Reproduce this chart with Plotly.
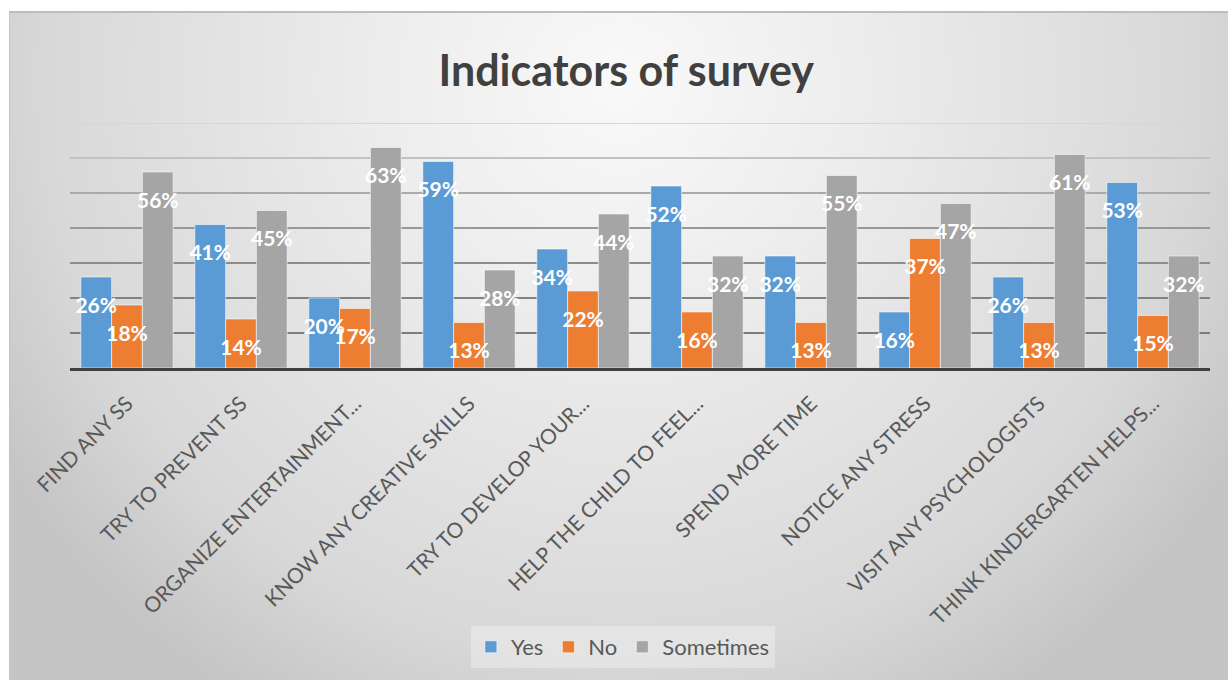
import base64
import plotly.graph_objects as go

categories = [
    "FIND ANY SS",
    "TRY TO PREVENT SS",
    "ORGANIZE ENTERTAINMENT...",
    "KNOW ANY CREATIVE SKILLS",
    "TRY TO DEVELOP YOUR...",
    "HELP THE CHILD TO FEEL...",
    "SPEND MORE TIME",
    "NOTICE ANY STRESS",
    "VISIT ANY PSYCHOLOGISTS",
    "THINK KINDERGARTEN HELPS...",
]
yes_vals = [26, 41, 20, 59, 34, 52, 32, 16, 26, 53]
no_vals = [18, 14, 17, 13, 22, 16, 13, 37, 13, 15]
sometimes_vals = [56, 45, 63, 28, 44, 32, 55, 47, 61, 32]
series_names = ["Yes", "No", "Sometimes"]
grid_values = [10, 20, 30, 40, 50, 60, 70]

colors = ["#5B9BD5", "#ED7D31", "#A5A5A5"]
grid_colors = ["#7c7c7c", "#828282", "#8c8c8c", "#989898", "#aaaaaa", "#c2c2c2", "#d6d6d6"]

W, H = 1228, 680
ML, MR, MT, MB = 70, 18, 123, 312
PW, PH = W - ML - MR, H - MT - MB

# background gradient (Excel-like radial fill) as inline SVG
bx0, by0 = 9, 11
bw, bh = W - bx0, H - by0
svg = f"""<svg xmlns='http://www.w3.org/2000/svg' width='{bw}' height='{bh}' viewBox='0 0 {bw} {bh}' preserveAspectRatio='none'>
<defs><radialGradient id='g' gradientUnits='userSpaceOnUse' cx='{bw*0.5:.0f}' cy='70' r='720'>
<stop offset='0' stop-color='#f9f9f9'/>
<stop offset='0.35' stop-color='#ececec'/>
<stop offset='0.8' stop-color='#d8d8d8'/>
<stop offset='1' stop-color='#c5c5c5'/>
</radialGradient></defs>
<rect x='0' y='0' width='{bw}' height='{bh}' fill='url(#g)'/>
<line x1='0' y1='1' x2='{bw}' y2='1' stroke='#bdbdbd' stroke-width='2'/>
<line x1='0.5' y1='0' x2='0.5' y2='{bh}' stroke='#c4c4c4' stroke-width='1'/>
</svg>"""
svg_uri = "data:image/svg+xml;base64," + base64.b64encode(svg.encode()).decode()

fig = go.Figure()
all_vals = [yes_vals, no_vals, sometimes_vals]
for name, vals, col in zip(series_names, all_vals, colors):
    fig.add_trace(go.Bar(
        name=name, x=categories, y=vals, offsetgroup=name,
        marker=dict(color=col, line=dict(color="rgba(255,255,255,0.55)", width=1)),
        hoverinfo="skip",
    ))
for name, vals in zip(series_names, all_vals):
    fig.add_trace(go.Scatter(
        x=categories, y=vals, offsetgroup=name, mode="markers+text",
        text=[f"{v}%" for v in vals], textposition="bottom center",
        textfont=dict(family="Lato", size=21, color="white", weight="bold"),
        marker=dict(size=30, color="rgba(0,0,0,0)"),
        showlegend=False, hoverinfo="skip", cliponaxis=False,
    ))

for gv, gc in zip(grid_values, grid_colors):
    fig.add_shape(type="line", xref="paper", x0=0, x1=1, yref="y", y0=gv, y1=gv,
                  line=dict(color=gc, width=2), layer="below")

fig.add_layout_image(dict(
    source=svg_uri, xref="paper", yref="paper",
    x=(bx0 - ML) / PW, y=(H - MB - by0) / PH,
    sizex=bw / PW, sizey=bh / PH, xanchor="left", yanchor="top",
    sizing="stretch", layer="below",
))

fig.update_layout(
    width=W, height=H,
    margin=dict(l=ML, r=MR, t=MT, b=MB),
    paper_bgcolor="white", plot_bgcolor="rgba(0,0,0,0)",
    barmode="group", bargap=0.19, bargroupgap=0,
    scattermode="group", scattergap=0.19,
    title=dict(text="<b>Indicators of survey</b>", x=0.51, xanchor="center",
               y=1 - 71 / H, yanchor="middle",
               font=dict(family="Lato", size=43, color="#404040")),
    legend=dict(orientation="h", x=0.485, xanchor="center", y=(H - MB - 647) / PH, yanchor="middle",
                font=dict(family="Lato", size=22, color="#595959"),
                bgcolor="rgba(255,255,255,0.3)", itemwidth=30, traceorder="normal"),
    font=dict(family="Lato"),
    showlegend=True,
)
fig.update_xaxes(showline=True, linecolor="#404040", linewidth=3, showgrid=False,
                 tickangle=-45, ticks="", tickfont=dict(family="Lato", size=21, color="#595959"),
                 ticklabelstandoff=12)
fig.update_yaxes(range=[0, 70], showgrid=False, showticklabels=False, zeroline=False, ticks="")

fig.write_html("out.html")
